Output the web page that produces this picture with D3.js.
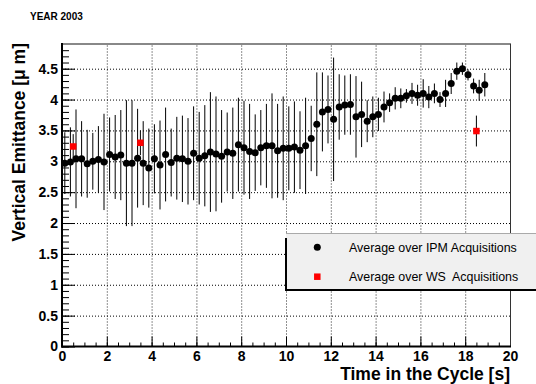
<!DOCTYPE html>
<html><head><meta charset="utf-8">
<script src="https://cdn.jsdelivr.net/npm/d3@7"></script>
<style>
html,body{margin:0;padding:0;background:#fff;}
svg{display:block;font-family:"Liberation Sans",Arial,Helvetica,sans-serif;}
</style></head><body>
<svg id="c" width="536" height="384"></svg>
<script>
// ---------------- data ----------------
const ipmTime = [0.125,0.375,0.625,0.875,1.125,1.375,1.625,1.875,2.125,2.375,2.625,2.875,3.125,3.375,3.625,3.875,
  4.125,4.375,4.625,4.875,5.125,5.375,5.625,5.875,6.125,6.375,6.625,6.875,7.125,7.375,7.625,7.875,
  8.125,8.375,8.625,8.875,9.125,9.375,9.625,9.875,10.125,10.375,10.625,10.875,11.125,11.375,11.625,11.875,
  12.125,12.375,12.625,12.875,13.125,13.375,13.625,13.875,14.125,14.375,14.625,14.875,15.125,15.375,15.625,15.875,
  16.125,16.375,16.625,16.875,17.125,17.375,17.625,17.875,18.125,18.375,18.625,18.875];
const ipmValue = [2.97,2.99,3.04,3.04,2.96,3.00,3.03,2.99,3.11,3.07,3.10,2.97,2.97,3.05,2.97,2.89,
  3.04,2.94,3.11,2.98,3.05,3.04,3.00,3.13,3.05,3.09,3.15,3.12,3.08,3.15,3.13,3.27,
  3.22,3.16,3.14,3.22,3.25,3.25,3.17,3.21,3.21,3.23,3.18,3.25,3.37,3.60,3.80,3.84,
  3.68,3.88,3.91,3.92,3.72,3.76,3.65,3.72,3.76,3.88,3.95,4.02,4.02,4.06,4.10,4.07,
  4.10,4.04,4.10,4.00,4.10,4.26,4.46,4.50,4.40,4.22,4.15,4.24];
const ipmError = [0.50,0.56,0.80,0.61,0.55,0.46,0.54,0.78,0.60,0.68,0.73,1.02,1.02,0.80,0.68,0.64,
  0.56,0.72,0.76,0.55,0.67,0.70,0.70,0.76,0.75,0.82,0.97,0.93,0.75,0.64,0.74,0.76,
  0.76,0.77,0.62,0.61,0.68,0.85,0.76,0.84,0.68,0.74,0.63,0.78,0.53,0.84,0.64,0.55,
  1.00,0.53,0.48,0.49,0.66,0.53,0.34,0.33,0.27,0.25,0.15,0.18,0.16,0.11,0.17,0.17,
  0.23,0.18,0.16,0.12,0.22,0.17,0.14,0.10,0.09,0.12,0.17,0.19];
const wsTime = [0.5, 3.5, 18.5];
const wsValue = [3.24, 3.30, 3.49];
const wsError = [0.20, 0.20, 0.25];

const xTickValues = [0,2,4,6,8,10,12,14,16,18,20];
const xTickLabels = ["0","2","4","6","8","10","12","14","16","18","20"];
const yTickValues = [0,0.5,1,1.5,2,2.5,3,3.5,4,4.5];
const yTickLabels = ["0","0.5","1","1.5","2","2.5","3","3.5","4","4.5"];
const chartTitle = "YEAR 2003";
const xTitle = "Time in the Cycle [s]";
const yTitle = "Vertical Emittance [\u03bc m]";
const legendLabels = ["Average over IPM Acquisitions", "Average over WS  Acquisitions"];

// ---------------- drawing ----------------
const svg = d3.select("#c");
const L = 62, R = 510, T = 44, B = 346.5;
const x = d3.scaleLinear().domain([0, 20]).range([L, R]);
const y = d3.scaleLinear().domain([0, 4.9]).range([B, T]);

// grid lines
const gx = svg.append("g").attr("transform", `translate(0,${B})`)
  .call(d3.axisBottom(x).tickValues(xTickValues.filter(v => v > 0 && v < 20)).tickSize(-(B - T)).tickFormat(""));
gx.select(".domain").remove();
gx.selectAll("line").attr("stroke", "#222").attr("stroke-dasharray", "1,2");
const gy = svg.append("g").attr("transform", `translate(${L},0)`)
  .call(d3.axisLeft(y).tickValues(yTickValues.filter(v => v > 0)).tickSize(-(R - L)).tickFormat(""));
gy.select(".domain").remove();
gy.selectAll("line").attr("stroke", "#000").attr("stroke-dasharray", "1,2");

// minor ticks
const mx = svg.append("g").attr("transform", `translate(0,${B})`)
  .call(d3.axisBottom(x).tickValues(d3.range(0, 20.01, 0.5)).tickSize(-4).tickFormat(""));
mx.select(".domain").remove();
const my = svg.append("g").attr("transform", `translate(${L},0)`)
  .call(d3.axisLeft(y).tickValues(d3.range(0, 4.85, 0.1)).tickSize(-7).tickFormat(""));
my.select(".domain").remove();

// major ticks and labels
const ax = svg.append("g").attr("transform", `translate(0,${B})`)
  .call(d3.axisBottom(x).tickValues(xTickValues).tickSize(-10).tickPadding(5)
    .tickFormat((d, i) => xTickLabels[i]));
ax.select(".domain").remove();
ax.selectAll("text").attr("font-size", 14).attr("font-weight", "bold").attr("fill", "#000")
  .attr("font-family", '"Liberation Sans",Arial,sans-serif');
const ay = svg.append("g").attr("transform", `translate(${L},0)`)
  .call(d3.axisLeft(y).tickValues(yTickValues).tickSize(-13).tickPadding(4)
    .tickFormat((d, i) => yTickLabels[i]));
ay.select(".domain").remove();
ay.selectAll("text").attr("font-size", 14).attr("font-weight", "bold").attr("fill", "#000")
  .attr("font-family", '"Liberation Sans",Arial,sans-serif');

// frame
svg.append("line").attr("x1", L).attr("x2", R + 1).attr("y1", T).attr("y2", T).attr("stroke", "#888").attr("stroke-width", 2);
svg.append("line").attr("x1", R + 0.5).attr("x2", R + 0.5).attr("y1", T).attr("y2", B).attr("stroke", "#333").attr("stroke-width", 1);
svg.append("line").attr("x1", L).attr("x2", L).attr("y1", T - 1).attr("y2", B + 1).attr("stroke", "#000").attr("stroke-width", 2);
svg.append("line").attr("x1", L - 1).attr("x2", R + 1).attr("y1", B).attr("y2", B).attr("stroke", "#000").attr("stroke-width", 2);

// data records built from the arrays
const ipm = ipmTime.map((t, i) => ({t, v: ipmValue[i], e: ipmError[i]}));
const ws = wsTime.map((t, i) => ({t, v: wsValue[i], e: wsError[i]}));

svg.append("g").selectAll("line").data(ipm).join("line")
  .attr("x1", d => x(d.t)).attr("x2", d => x(d.t))
  .attr("y1", d => y(d.v - d.e)).attr("y2", d => y(d.v + d.e))
  .attr("stroke", "#000").attr("stroke-width", 1);
svg.append("g").selectAll("line").data(ws).join("line")
  .attr("x1", d => x(d.t)).attr("x2", d => x(d.t))
  .attr("y1", d => y(d.v - d.e)).attr("y2", d => y(d.v + d.e))
  .attr("stroke", "#000").attr("stroke-width", 1);
svg.append("g").selectAll("circle").data(ipm).join("circle")
  .attr("cx", d => x(d.t)).attr("cy", d => y(d.v)).attr("r", 3.5).attr("fill", "#000");
const sq = 6.5;
svg.append("g").selectAll("rect").data(ws).join("rect")
  .attr("x", d => x(d.t) - sq / 2).attr("y", d => y(d.v) - sq / 2)
  .attr("width", sq).attr("height", sq).attr("fill", "#ff0000");

// legend
const lg = svg.append("g");
lg.append("rect").attr("x", 286).attr("y", 233).attr("width", 260).attr("height", 57).attr("fill", "#f0f0f0");
lg.append("line").attr("x1", 286).attr("x2", 540).attr("y1", 233.5).attr("y2", 233.5).attr("stroke", "#aaa");
lg.append("line").attr("x1", 286).attr("x2", 286).attr("y1", 238).attr("y2", 291).attr("stroke", "#000").attr("stroke-width", 2);
lg.append("line").attr("x1", 285).attr("x2", 540).attr("y1", 290).attr("y2", 290).attr("stroke", "#000").attr("stroke-width", 2);
lg.append("circle").attr("cx", 317.3).attr("cy", 247.3).attr("r", 3.5).attr("fill", "#000");
lg.append("rect").attr("x", 317.3 - sq / 2).attr("y", 276.7 - sq / 2).attr("width", sq).attr("height", sq).attr("fill", "#ff0000");
lg.selectAll("text").data(legendLabels).join("text")
  .attr("x", 349).attr("y", (d, i) => i === 0 ? 251.7 : 280.9)
  .attr("font-size", 12.4).attr("fill", "#000").style("white-space", "pre").text(d => d);

// titles
svg.append("text").attr("x", 30).attr("y", 20).attr("font-size", 10).attr("font-weight", "bold").text(chartTitle);
svg.append("text").attr("x", R).attr("y", 379.5).attr("text-anchor", "end")
  .attr("font-size", 17.5).attr("font-weight", "bold").text(xTitle);
svg.append("text").attr("transform", "translate(24.5,43) rotate(-90)").attr("text-anchor", "end")
  .attr("font-size", 17.5).attr("font-weight", "bold").style("white-space", "pre").text(yTitle);
</script>
</body></html>
